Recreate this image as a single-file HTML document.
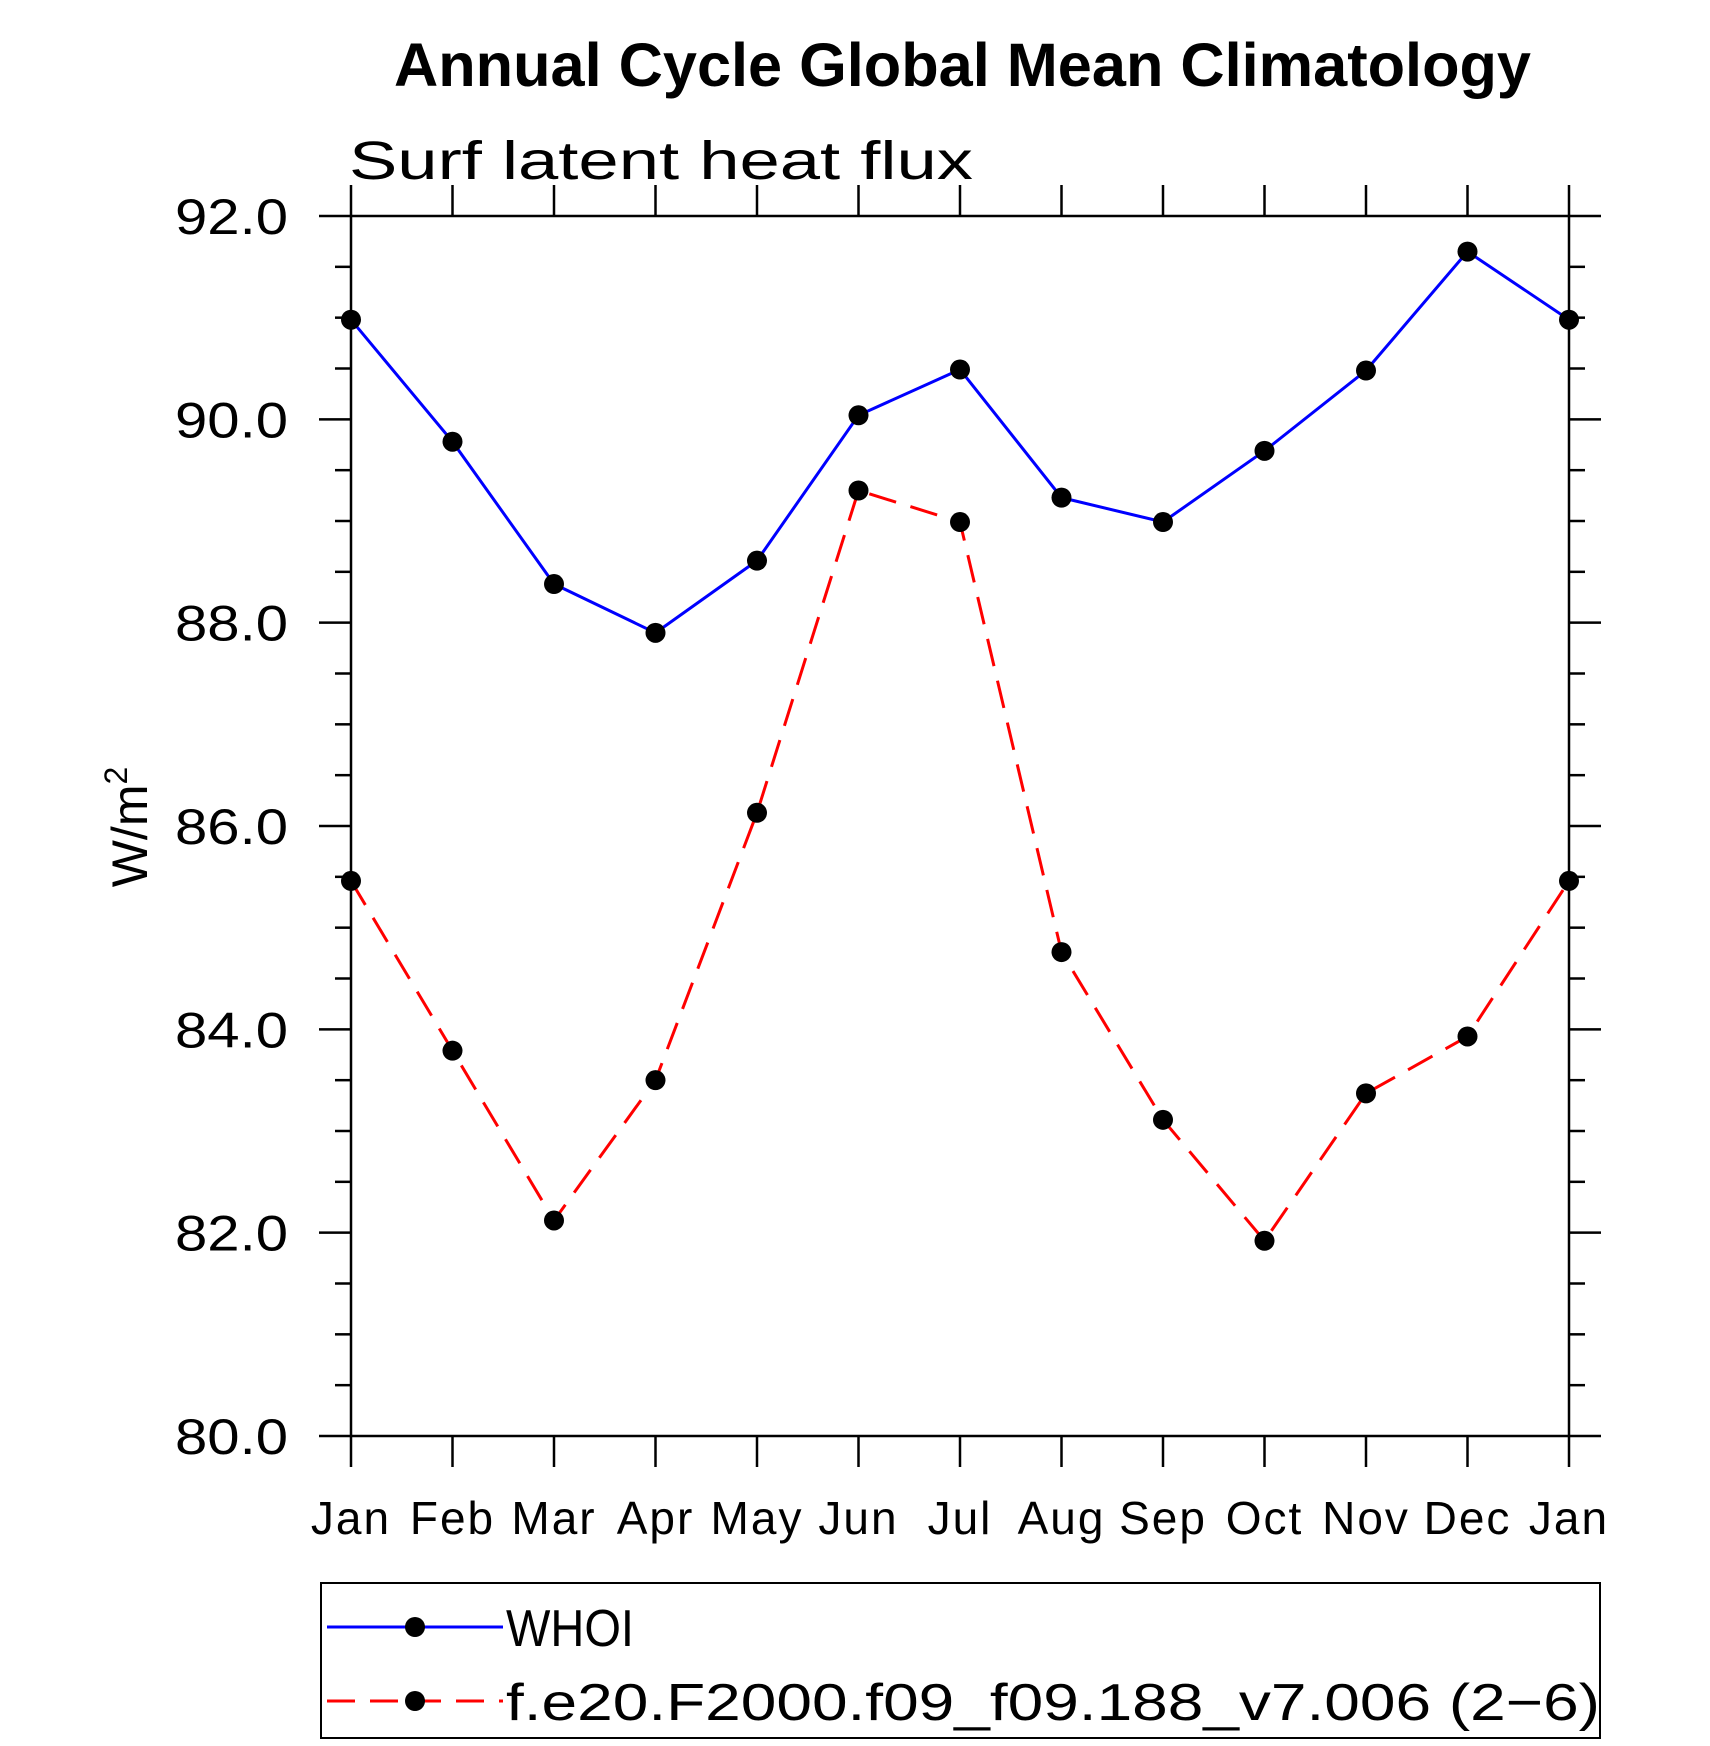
<!DOCTYPE html>
<html><head><meta charset="utf-8"><style>
body{margin:0;background:#fff}
svg{display:block}
text{font-family:"Liberation Sans",sans-serif}
</style></head><body>
<svg id="chart" width="1710" height="1746" viewBox="0 0 1710 1746" xmlns="http://www.w3.org/2000/svg">
<text x="394" y="86" font-size="61" font-weight="bold" textLength="1137" lengthAdjust="spacingAndGlyphs">Annual Cycle Global Mean Climatology</text>
<text x="349" y="179" font-size="54" textLength="624" lengthAdjust="spacingAndGlyphs">Surf latent heat flux</text>
<text transform="translate(147,827) rotate(-90)" text-anchor="middle" font-size="50">W/m<tspan dy="-20" font-size="32">2</tspan></text>
<g id="axes"></g>
<g id="series"></g>
<g>
<rect x="321" y="1583" width="1279" height="155" fill="none" stroke="#000" stroke-width="2"/>
<line x1="327" y1="1627" x2="503" y2="1627" stroke="#0000ff" stroke-width="3"/>
<circle cx="415" cy="1627" r="10" fill="#000"/>
<text x="506" y="1646" font-size="52" textLength="128" lengthAdjust="spacingAndGlyphs">WHOI</text>
<line x1="327" y1="1701" x2="503" y2="1701" stroke="#ff0000" stroke-width="3" stroke-dasharray="28,15"/>
<circle cx="415" cy="1701" r="10" fill="#000"/>
<text x="506" y="1720" font-size="52" textLength="1094" lengthAdjust="spacingAndGlyphs">f.e20.F2000.f09_f09.188_v7.006 (2−6)</text>
</g>
</svg>
<script>
const months = ["Jan","Feb","Mar","Apr","May","Jun","Jul","Aug","Sep","Oct","Nov","Dec","Jan"];
const whoiValues = [90.98,89.78,88.38,87.90,88.61,90.04,90.49,89.23,88.99,89.69,90.48,91.65,90.98];
const modelValues = [85.46,83.79,82.12,83.50,86.13,89.30,88.99,84.76,83.11,81.92,83.37,83.93,85.46];
const yTickLabels = ["80.0","82.0","84.0","86.0","88.0","90.0","92.0"];
const yMin = 80, yMax = 92;
const L=351,R=1569,T=216,B=1436;
const NS="http://www.w3.org/2000/svg";
function X(i){return L+(R-L)*i/(months.length-1);}
function Y(v){return B-(B-T)*(v-yMin)/(yMax-yMin);}
function mk(tag,attrs,parent){const e=document.createElementNS(NS,tag);for(const k in attrs)e.setAttribute(k,attrs[k]);parent.appendChild(e);return e;}
const ax=document.getElementById('axes');
let fr=mk('rect',{x:L,y:T,width:R-L,height:B-T,fill:'none',stroke:'#000','stroke-width':2.5},ax);


months.forEach((m,i)=>{
  const x=X(i);
  let t=mk('line',{x1:x,y1:B,x2:x,y2:B+31,stroke:'#000','stroke-width':2.5},ax);
  
  
  let t2=mk('line',{x1:x,y1:T,x2:x,y2:T-31,stroke:'#000','stroke-width':2.5},ax);
  
  
  let lb=mk('text',{x:x,y:1534,'text-anchor':'middle','font-size':46,'letter-spacing':2},ax);
  lb.textContent=m;
  
  
});
for(let v=yMin;v<=yMax+1e-9;v+=0.5){
  const y=Y(v);const major=Math.abs(v%2)<1e-9;
  const len=major?32:16;
  let a=mk('line',{x1:L-len,y1:y,x2:L,y2:y,stroke:'#000','stroke-width':2.5},ax);
  
  
  let b=mk('line',{x1:R,y1:y,x2:R+len,y2:y,stroke:'#000','stroke-width':2.5},ax);
  
  
}
yTickLabels.forEach((s)=>{
  let lb=mk('text',{x:175,y:Y(parseFloat(s))+18,'font-size':50,textLength:113,lengthAdjust:'spacingAndGlyphs'},ax);
  lb.textContent=s;
  
  
});
const sg=document.getElementById('series');
function series(vals,color,dash,name){
  const pts=vals.map((v,i)=>X(i)+','+Y(v)).join(' ');
  const attrs={points:pts,fill:'none',stroke:color,'stroke-width':3};
  if(dash)attrs['stroke-dasharray']=dash;
  let pl=mk('polyline',attrs,sg);
  
  
  vals.forEach((v,i)=>{
    let c=mk('circle',{cx:X(i),cy:Y(v),r:10,fill:'#000'},sg);
    
    
  });
}
series(whoiValues,'#0000ff',null,'whoi');
series(modelValues,'#ff0000','28,15','model');
</script>
</body></html>
